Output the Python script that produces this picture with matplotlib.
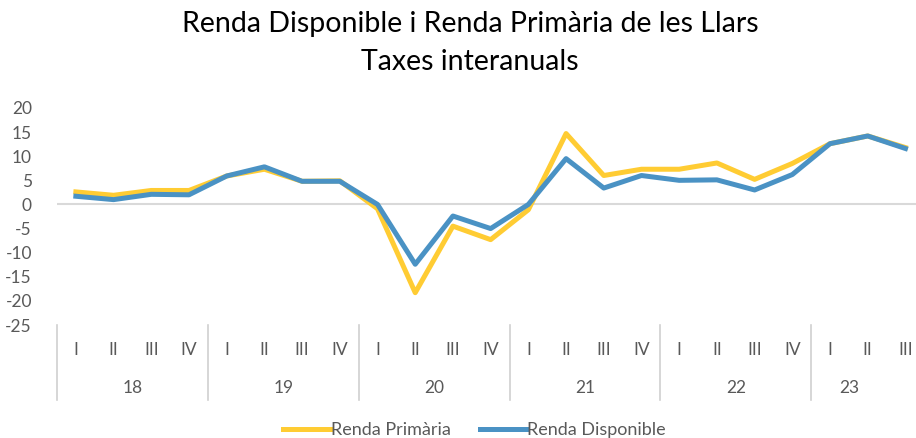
import matplotlib
matplotlib.use("Agg")
import matplotlib.pyplot as plt
import matplotlib.transforms as mtransforms

plt.rcParams['font.family'] = ['Lato', 'DejaVu Sans']

years = ['18', '19', '20', '21', '22', '23']
quarters = ['I', 'II', 'III', 'IV']
quarters_per_year = [4, 4, 4, 4, 4, 3]

renda_primaria = [2.6, 1.9, 2.9, 2.9,
                  5.9, 7.3, 4.8, 4.9,
                  -0.9, -18.3, -4.5, -7.3,
                  -1.1, 14.7, 6.0, 7.3,
                  7.3, 8.6, 5.2, 8.5,
                  12.6, 14.2, 11.8]
renda_disponible = [1.7, 1.0, 2.1, 2.0,
                    5.9, 7.8, 4.8, 4.8,
                    0.0, -12.4, -2.4, -5.0,
                    0.0, 9.5, 3.4, 6.0,
                    5.0, 5.1, 3.0, 6.2,
                    12.6, 14.2, 11.6]

yticks = [-25, -20, -15, -10, -5, 0, 5, 10, 15, 20]

W, H = 916, 438
fig = plt.figure(figsize=(W / 100, H / 100), dpi=100)
ax = fig.add_axes([57 / W, (H - 325) / H, (W - 57) / W, (325 - 108) / H])

x = list(range(len(renda_primaria)))
yellow = '#FFCC33'
blue = '#4A92C4'
gray_txt = '#595959'

ax.axhline(0, color='#D9D9D9', lw=1.5, zorder=1)
ax.plot(x, renda_primaria, color=yellow, lw=3.6, solid_joinstyle='round', label='Renda Primària', zorder=2)
ax.plot(x, renda_disponible, color=blue, lw=3.6, solid_joinstyle='round', label='Renda Disponible', zorder=3)

ax.set_ylim(-25, 20)
ax.set_yticks(yticks)
ax.set_yticklabels([str(v) for v in yticks], color=gray_txt, fontsize=12.5)
ax.tick_params(axis='y', length=0, pad=18)
ax.set_xlim(-0.5, 22.28)
ax.set_xticks([])
for s in ax.spines.values():
    s.set_visible(False)

trans = mtransforms.blended_transform_factory(ax.transData, ax.transAxes)
i = 0
bounds = [-0.5]
for yr, n in zip(years, quarters_per_year):
    start = i
    for q in quarters[:n]:
        ax.text(i, -0.115, q, transform=trans, ha='center', va='center',
                fontsize=12.5, color=gray_txt, clip_on=False)
        i += 1
    if n == 4:
        xc = start + 1.5
    else:
        xc = start + 0.5
    ax.text(xc, -0.29, yr, transform=trans,
            ha='center', va='center', fontsize=12.5, color=gray_txt, clip_on=False)
    bounds.append(i - 0.5)
for b in bounds[:-1]:
    ax.plot([b, b], [0, -0.345], transform=trans, color='#D0D0D0', lw=1.2, clip_on=False)

fig.text(0.513, 1 - 24 / H, 'Renda Disponible i Renda Primària de les Llars',
         ha='center', va='center', fontsize=20.5, color='#000000')
fig.text(0.513, 1 - 62 / H, 'Taxes interanuals',
         ha='center', va='center', fontsize=20.5, color='#000000')

leg = fig.legend(loc='center', bbox_to_anchor=(0.518, 1 - 430 / H), ncol=2, frameon=False,
                 fontsize=13, handlelength=2.6, handletextpad=0.05, columnspacing=1.6)
for t in leg.get_texts():
    t.set_color(gray_txt)

fig.savefig('out.png', dpi=100)
